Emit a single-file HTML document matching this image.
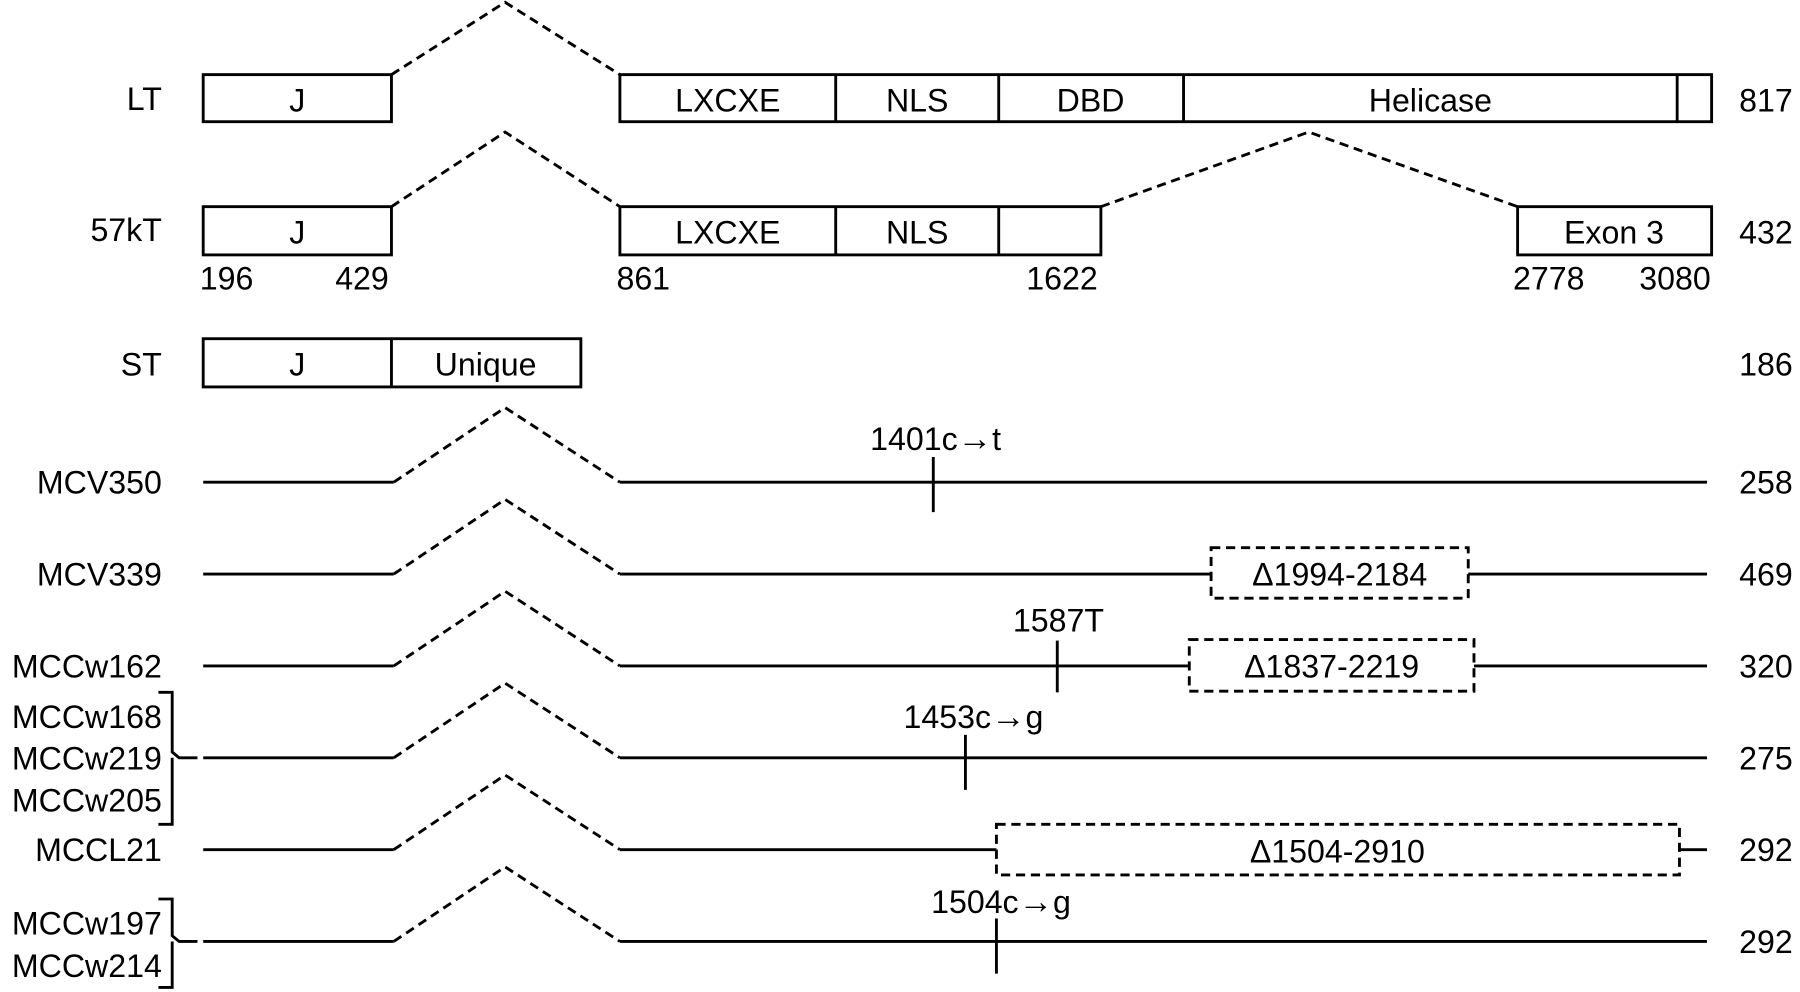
<!DOCTYPE html>
<html><head><meta charset="utf-8"><style>
html,body{margin:0;padding:0;background:#fff;width:1800px;height:992px;overflow:hidden}
svg{display:block}
text{font-family:"Liberation Sans",Arial,sans-serif;font-size:28px;fill:#000}
.a{font-size:30px;font-weight:bold}
</style></head><body>
<svg width="1800" height="992" viewBox="0 0 1568 864" preserveAspectRatio="none" xmlns="http://www.w3.org/2000/svg">
<g fill="none" stroke="#000" stroke-width="2.5">
<rect x="177" y="65" width="164" height="41"/>
<rect x="540" y="65" width="951" height="41"/>
<line x1="728" y1="65" x2="728" y2="106"/><line x1="870" y1="65" x2="870" y2="106"/>
<line x1="1031" y1="65" x2="1031" y2="106"/><line x1="1461" y1="65" x2="1461" y2="106"/>
<rect x="177" y="180" width="164" height="42"/>
<rect x="540" y="180" width="419" height="42"/>
<line x1="728" y1="180" x2="728" y2="222"/><line x1="870" y1="180" x2="870" y2="222"/>
<rect x="1322" y="180" width="169" height="42"/>
<rect x="177" y="295" width="329" height="42"/>
<line x1="341" y1="295" x2="341" y2="337"/>
<path d="M177 420H343M540 420H1487"/>
<path d="M177 500H343M540 500H1055M1279 500H1487"/>
<path d="M177 580H343M540 580H1036M1284 580H1487"/>
<path d="M177 660H343M540 660H1487"/>
<path d="M177 740H343M540 740H868M1463 740H1487"/>
<path d="M177 820H343M540 820H1487"/>
<path d="M813 398V446M921 558V603M841 640V688M868 800V848"/>
<path d="M138 603H150V655L156 660H172M150 660V665M150 665V718H138"/>
<path d="M138 783H150V815L156 820H172M150 820V860H138"/>
</g>
<g fill="none" stroke="#000" stroke-width="2.5" stroke-dasharray="8,5">
<path d="M341 65L440 2L540 65"/>
<path d="M341 180L440 115L540 180"/>
<path d="M959 180L1140 115L1322 180"/>
<path d="M343 420L440 355L540 420"/>
<path d="M343 500L440 435L540 500"/>
<path d="M343 580L440 515L540 580"/>
<path d="M343 660L440 595L540 660"/>
<path d="M343 740L440 675L540 740"/>
<path d="M343 820L440 755L540 820"/>
<rect x="1055" y="477" width="224" height="44"/>
<rect x="1036" y="557" width="248" height="45"/>
<rect x="868" y="718" width="595" height="44"/>
</g>
<g text-anchor="middle">
<text x="259" y="97">J</text><text x="634" y="97">LXCXE</text><text x="799" y="97">NLS</text>
<text x="950" y="97">DBD</text><text x="1246" y="97">Helicase</text>
<text x="259" y="212">J</text><text x="634" y="212">LXCXE</text><text x="799" y="212">NLS</text>
<text x="1406" y="212">Exon 3</text>
<text x="259" y="327">J</text><text x="423" y="327">Unique</text>
<text x="815" y="392">1401c<tspan class="a">→</tspan>t</text>
<text x="1167" y="510">Δ1994-2184</text>
<text x="922" y="550">1587T</text>
<text x="1160" y="590">Δ1837-2219</text>
<text x="848" y="634">1453c<tspan class="a">→</tspan>g</text>
<text x="1165" y="751">Δ1504-2910</text>
<text x="872" y="795">1504c<tspan class="a">→</tspan>g</text>
</g>
<g>
<text x="174" y="252">196</text><text x="292" y="252">429</text><text x="537" y="252">861</text>
<text x="894" y="252">1622</text><text x="1318" y="252">2778</text><text x="1428" y="252">3080</text>
<text x="1515" y="97">817</text><text x="1515" y="212">432</text><text x="1515" y="327">186</text>
<text x="1515" y="430">258</text><text x="1515" y="510">469</text><text x="1515" y="590">320</text>
<text x="1515" y="670">275</text><text x="1515" y="750">292</text><text x="1515" y="830">292</text>
</g>
<g text-anchor="end">
<text x="141" y="96">LT</text><text x="141" y="210">57kT</text><text x="141" y="327">ST</text>
<text x="141" y="430">MCV350</text><text x="141" y="510">MCV339</text><text x="141" y="590">MCCw162</text>
<text x="141" y="634">MCCw168</text><text x="141" y="670">MCCw219</text><text x="141" y="707">MCCw205</text>
<text x="141" y="750">MCCL21</text>
<text x="141" y="814">MCCw197</text><text x="141" y="851">MCCw214</text>
</g>
</svg>
</body></html>
